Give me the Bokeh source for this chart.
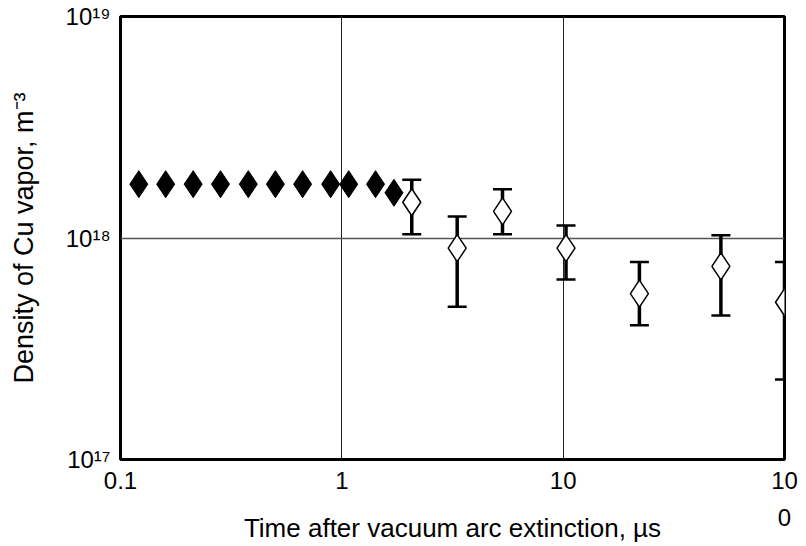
from bokeh.plotting import figure
from bokeh.models import FixedTicker, Range1d
from bokeh.embed import file_html
from bokeh.resources import INLINE

# Filled diamonds (no error bars)
filled_t = [0.121, 0.160, 0.213, 0.283, 0.378, 0.501, 0.665, 0.890, 1.074, 1.42, 1.72]
filled_n = [1.75e18, 1.75e18, 1.75e18, 1.75e18, 1.75e18, 1.75e18, 1.75e18, 1.75e18, 1.75e18, 1.75e18, 1.60e18]

# Open diamonds with error bars
open_t = [2.07, 3.32, 5.32, 10.3, 22.1, 51.6, 100.0]
open_n = [1.45e18, 9.0e17, 1.32e18, 9.0e17, 5.61e17, 7.45e17, 5.13e17]
open_lo = [1.04e18, 4.89e17, 1.04e18, 6.49e17, 4.04e17, 4.47e17, 2.30e17]
open_hi = [1.83e18, 1.25e18, 1.66e18, 1.14e18, 7.80e17, 1.03e18, 7.80e17]

x_ticks = [0.1, 1, 10, 100]
x_tick_labels = ["0.1", "1", "10", "10\n0"]
y_ticks = [1e17, 1e18, 1e19]
y_tick_labels = ["10\u00b9\u2077", "10\u00b9\u2078", "10\u00b9\u2079"]

FONT = "Liberation Sans"

p = figure(width=806, height=546, x_axis_type="log", y_axis_type="log",
           x_range=Range1d(0.1, 100), y_range=Range1d(1e17, 1e19),
           output_backend="svg", toolbar_location=None,
           min_border_left=120, min_border_top=16, min_border_right=22,
           min_border_bottom=86)

p.background_fill_color = "white"
p.border_fill_color = "white"
p.outline_line_color = "black"
p.outline_line_width = 3
p.outline_line_alpha = 1.0

# axes
for ax in (p.xaxis, p.yaxis):
    ax.axis_line_color = None
    ax.major_tick_line_color = None
    ax.minor_tick_line_color = None
    ax.major_tick_out = 0
    ax.major_tick_in = 0
    ax.minor_tick_out = 0
    ax.minor_tick_in = 0
    ax.major_label_text_font = FONT
    ax.major_label_text_font_size = "24px"
    ax.major_label_text_color = "black"
    ax.axis_label_text_font = FONT
    ax.axis_label_text_font_style = "normal"
    ax.axis_label_text_color = "black"

p.xaxis.ticker = FixedTicker(ticks=x_ticks)
p.xaxis.major_label_overrides = dict(zip(x_ticks, x_tick_labels))
p.xaxis.major_label_standoff = 7
p.xaxis.major_label_text_line_height = 1.4
p.xaxis.axis_label = "Time after vacuum arc extinction, \u00b5s"
p.xaxis.axis_label_text_font_size = "26px"
p.xaxis.axis_label_standoff = -21

p.yaxis.ticker = FixedTicker(ticks=y_ticks)
p.yaxis.major_label_overrides = dict(zip(y_ticks, y_tick_labels))
p.yaxis.major_label_standoff = 10
p.yaxis.axis_label = "Density of Cu vapor, m\u207b\u00b3"
p.yaxis.axis_label_text_font_size = "27px"
p.yaxis.axis_label_standoff = 24

# grid
p.xgrid.ticker = FixedTicker(ticks=x_ticks)
p.ygrid.ticker = FixedTicker(ticks=y_ticks)
p.xgrid.grid_line_color = "#222222"
p.xgrid.grid_line_width = 1
p.ygrid.grid_line_color = "#555555"
p.ygrid.grid_line_width = 1.5
p.xgrid.minor_grid_line_color = None
p.ygrid.minor_grid_line_color = None

# error bars
p.segment(x0=open_t, y0=open_lo, x1=open_t, y1=open_hi,
          line_color="black", line_width=3.5)
p.scatter(x=open_t + open_t, y=open_lo + open_hi, marker="dash", size=19,
          line_color="black", line_width=2.5)

# markers
p.scatter(x=filled_t, y=filled_n, marker="diamond", size=27,
          fill_color="black", line_color="black", line_width=1)
p.scatter(x=open_t, y=open_n, marker="diamond", size=27,
          fill_color="white", line_color="black", line_width=1.5)

open("out.html", "w").write(file_html(p, INLINE))
